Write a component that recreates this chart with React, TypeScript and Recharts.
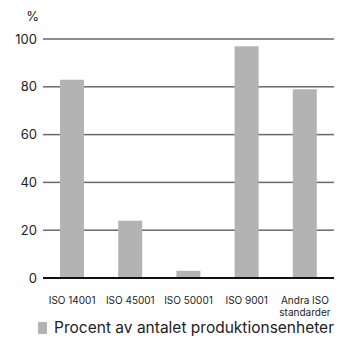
import { BarChart, Bar, XAxis, YAxis, Legend } from "recharts";

const categories = ["ISO 14001", "ISO 45001", "ISO 50001", "ISO 9001", "Andra ISO standarder"];
const percentValues = [83, 24, 3, 97, 79];
const yTicks = [0, 20, 40, 60, 80, 100];
const seriesName = "Procent av antalet produktionsenheter";

const FONT = "Inter, 'Noto Sans', sans-serif";
const BAR_COLOR = "#b3b3b3";
const TEXT_COLOR = "#222";
const GRID_COLOR = "#6a6a6a";

const W = 338;
const H = 340;
const MARGIN = { top: 39, right: 4, bottom: 2, left: 1 };
const Y_WIDTH = 42;
const X_HEIGHT = 40;
const LEGEND_H = 20;

const data = categories.map((c, i) => ({ name: c, value: percentValues[i] }));

function wrapWords(label: string, maxChars: number) {
  const lines: string[] = [];
  let cur = "";
  for (const w of label.split(" ")) {
    const next = cur ? cur + " " + w : w;
    if (next.length > maxChars && cur) {
      lines.push(cur);
      cur = w;
    } else {
      cur = next;
    }
  }
  if (cur) lines.push(cur);
  return lines;
}

function XTick(props: any) {
  const { x, y, payload } = props;
  const lines = wrapWords(String(payload.value), 10);
  return (
    <text x={x} y={y} textAnchor="middle" fontSize={10} fill={TEXT_COLOR} fontFamily={FONT}>
      {lines.map((l, i) => (
        <tspan key={i} x={x} dy={i === 0 ? 18 : 12}>
          {l}
        </tspan>
      ))}
    </text>
  );
}

function EmptyTick() {
  return <g />;
}

// grid line at each y tick, drawn as a thin filled rect; y comes from the axis scale
function GridTick(props: any) {
  const { y, payload } = props;
  if (payload.value === 0) return <g />;
  const left = MARGIN.left + Y_WIDTH;
  const right = W - MARGIN.right;
  return <rect x={left} y={y - 0.75} width={right - left} height={1.5} fill={GRID_COLOR} stroke="none" />;
}

function PercentLabel(props: any) {
  const vb = props.viewBox || {};
  return (
    <text x={vb.x + vb.width - 4} y={vb.y - 18} textAnchor="end" fontSize={13} fill={TEXT_COLOR} fontFamily={FONT}>
      %
    </text>
  );
}

function LegendContent() {
  return (
    <div style={{ display: "flex", alignItems: "center", paddingLeft: 37, fontFamily: FONT }}>
      <span style={{ width: 11, height: 12, background: BAR_COLOR, display: "inline-block", marginRight: 7 }} />
      <span style={{ fontSize: 15.5, color: TEXT_COLOR, whiteSpace: "nowrap" }}>{seriesName}</span>
    </div>
  );
}

function EmptyLegend() {
  return <div style={{ height: LEGEND_H }} />;
}

export default function App() {
  return (
    <div style={{ position: "absolute", left: 0, top: 0, width: W, height: H, background: "#fff" }}>
      {/* back layer: same layout, draws only the horizontal grid so bars cover it */}
      <div style={{ position: "absolute", left: 0, top: 0 }}>
        <BarChart width={W} height={H} data={data} margin={MARGIN}>
          <XAxis dataKey="name" interval={0} tickLine={false} axisLine={false} tick={<EmptyTick />} height={X_HEIGHT} />
          <YAxis
            width={Y_WIDTH}
            domain={[0, 100]}
            ticks={yTicks}
            interval={0}
            axisLine={false}
            tickLine={false}
            tick={<GridTick />}
          />
          <Legend verticalAlign="bottom" align="left" height={LEGEND_H} content={<EmptyLegend />} />
          <Bar dataKey="value" fill="none" fillOpacity={0} barSize={24} isAnimationActive={false} />
        </BarChart>
      </div>
      <div style={{ position: "absolute", left: 0, top: 0 }}>
        <BarChart width={W} height={H} data={data} margin={MARGIN}>
          <XAxis
            dataKey="name"
            interval={0}
            tickLine={false}
            axisLine={{ stroke: "#111", strokeWidth: 2 }}
            tick={<XTick />}
            height={X_HEIGHT}
          />
          <YAxis
            width={Y_WIDTH}
            domain={[0, 100]}
            ticks={yTicks}
            interval={0}
            axisLine={false}
            tickLine={false}
            tickMargin={0}
            tick={{ fontSize: 13, fill: TEXT_COLOR, fontFamily: FONT }}
            label={<PercentLabel />}
          />
          <Legend verticalAlign="bottom" align="left" height={LEGEND_H} content={<LegendContent />} />
          <Bar dataKey="value" name={seriesName} fill={BAR_COLOR} barSize={24} isAnimationActive={false} />
        </BarChart>
      </div>
    </div>
  );
}
